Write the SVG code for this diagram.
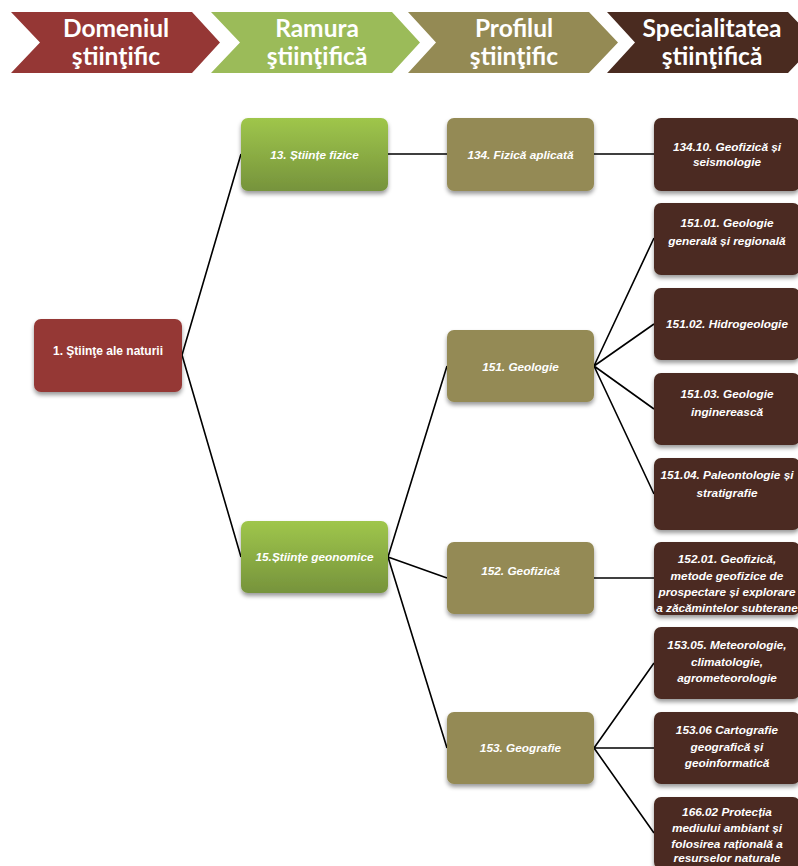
<svg xmlns="http://www.w3.org/2000/svg" width="798" height="866" viewBox="0 0 798 866">
<defs>
<linearGradient id="gGreen" x1="0" y1="0" x2="0" y2="1">
<stop offset="0" stop-color="#9fc64b"/>
<stop offset="1" stop-color="#76933c"/>
</linearGradient>
<filter id="sh" x="-10%" y="-10%" width="130%" height="140%">
<feDropShadow dx="0" dy="3" stdDeviation="2" flood-color="#000" flood-opacity="0.4"/>
</filter>
<style>
.hd{font-family:Lato,"Open Sans","Liberation Sans",sans-serif;font-weight:bold;font-size:24.5px;fill:#fff;text-anchor:middle}
.t{font-family:"Liberation Sans",Arial,sans-serif;font-weight:bold;font-style:italic;font-size:11.8px;fill:#fff;text-anchor:middle}
.tr{font-family:"Liberation Sans",Arial,sans-serif;font-weight:bold;font-size:12px;fill:#fff;text-anchor:middle}
.red{fill:#953735}
.grn{fill:url(#gGreen)}
.olv{fill:#948a54}
.brn{fill:#4b2c21}
.n{filter:url(#sh)}
.c{stroke:#000;stroke-width:1.6;fill:none}
</style>
</defs>
<rect width="798" height="866" fill="#fff"/>

<g id="header">
<polygon fill="#953735" points="11,12 192,12 220,42.5 192,73 11,73 40,42.5"/>
<text class="hd" x="116" y="37">Domeniul</text>
<text class="hd" x="116" y="65">ştiinţific</text>
<polygon fill="#9bbb59" points="211,12 392,12 420,42.5 392,73 211,73 240,42.5"/>
<text class="hd" x="317" y="37">Ramura</text>
<text class="hd" x="317" y="65">ştiinţifică</text>
<polygon fill="#948a54" points="408,12 589,12 618,42.5 589,73 408,73 436,42.5"/>
<text class="hd" x="514" y="37">Profilul</text>
<text class="hd" x="514" y="65">ştiinţific</text>
<polygon fill="#4a2b20" points="607,12 788,12 817,42.5 788,73 607,73 635,42.5"/>
<text class="hd" x="712" y="37">Specialitatea</text>
<text class="hd" x="712" y="65">ştiinţifică</text>
</g>

<g id="connectors">
<path class="c" d="M182,355 L241,154 M182,355 L241,557"/>
<path class="c" d="M388,154 L447,154 M594,154 L654,154"/>
<path class="c" d="M388,557 L447,366 M388,557 L447,578 M388,557 L447,748"/>
<path class="c" d="M594,366 L654,238 M594,366 L654,324 M594,366 L654,409 M594,366 L654,494"/>
<path class="c" d="M594,578 L654,578"/>
<path class="c" d="M594,748 L654,663 M594,748 L654,748 M594,748 L654,833"/>
</g>

<g id="n1"><rect class="n red" x="34" y="319" width="148" height="73" rx="7"/>
<text class="tr" x="108" y="355">1. Ştiinţe ale naturii</text></g>

<g id="n13"><rect class="n grn" x="241" y="118" width="147" height="73" rx="7"/>
<text class="t" x="314.5" y="159">13. Științe fizice</text></g>
<g id="n15"><rect class="n grn" x="241" y="521" width="147" height="72" rx="7"/>
<text class="t" x="314.5" y="561">15.Științe geonomice</text></g>

<g id="n134"><rect class="n olv" x="447" y="118" width="147" height="73" rx="7"/>
<text class="t" x="520.5" y="159">134. Fizică aplicată</text></g>
<g id="n151"><rect class="n olv" x="447" y="330" width="147" height="72" rx="7"/>
<text class="t" x="520.5" y="371">151. Geologie</text></g>
<g id="n152"><rect class="n olv" x="447" y="542" width="147" height="72" rx="7"/>
<text class="t" x="520.5" y="575">152. Geofizică</text></g>
<g id="n153"><rect class="n olv" x="447" y="712" width="147" height="72" rx="7"/>
<text class="t" x="520.5" y="752">153. Geografie</text></g>

<g id="n13410"><rect class="n brn" x="654" y="118" width="146" height="73" rx="7"/>
<text class="t" x="727" y="151">134.10. Geofizică și</text>
<text class="t" x="727" y="166">seismologie</text></g>
<g id="n15101"><rect class="n brn" x="654" y="203" width="146" height="72" rx="7"/>
<text class="t" x="727" y="227">151.01. Geologie</text>
<text class="t" x="727" y="245">generală și regională</text></g>
<g id="n15102"><rect class="n brn" x="654" y="288" width="146" height="72" rx="7"/>
<text class="t" x="727" y="328">151.02. Hidrogeologie</text></g>
<g id="n15103"><rect class="n brn" x="654" y="373" width="146" height="72" rx="7"/>
<text class="t" x="727" y="398">151.03. Geologie</text>
<text class="t" x="727" y="416">inginerească</text></g>
<g id="n15104"><rect class="n brn" x="654" y="458" width="146" height="72" rx="7"/>
<text class="t" x="727" y="479">151.04. Paleontologie și</text>
<text class="t" x="727" y="497">stratigrafie</text></g>
<g id="n15201"><rect class="n brn" x="654" y="542" width="146" height="73" rx="7"/>
<text class="t" x="727" y="563">152.01. Geofizică,</text>
<text class="t" x="727" y="580">metode geofizice de</text>
<text class="t" x="727" y="596">prospectare și explorare</text>
<text class="t" x="727" y="612">a zăcămintelor subterane</text></g>
<g id="n15305"><rect class="n brn" x="654" y="627" width="146" height="72" rx="7"/>
<text class="t" x="727" y="649">153.05. Meteorologie,</text>
<text class="t" x="727" y="666">climatologie,</text>
<text class="t" x="727" y="682">agrometeorologie</text></g>
<g id="n15306"><rect class="n brn" x="654" y="712" width="146" height="72" rx="7"/>
<text class="t" x="727" y="734">153.06 Cartografie</text>
<text class="t" x="727" y="751">geografică și</text>
<text class="t" x="727" y="767">geoinformatică</text></g>
<g id="n16602"><rect class="n brn" x="654" y="797" width="146" height="72" rx="7"/>
<text class="t" x="727" y="816">166.02 Protecția</text>
<text class="t" x="727" y="832">mediului ambiant și</text>
<text class="t" x="727" y="848">folosirea rațională a</text>
<text class="t" x="727" y="862">resurselor naturale</text></g>
</svg>
